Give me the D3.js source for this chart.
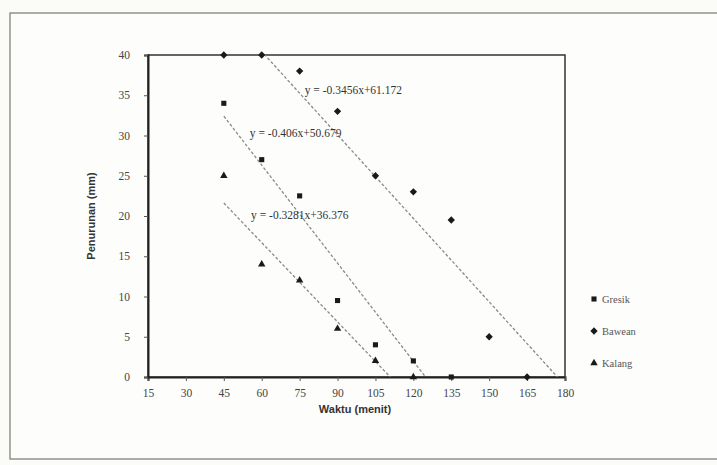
<!DOCTYPE html>
<html>
<head>
<meta charset="utf-8">
<script src="https://cdn.jsdelivr.net/npm/d3@7"></script>
<style>
  body { margin: 0; background: #fbfbf8; }
  svg { display: block; }
</style>
</head>
<body>
<script>
//Width and height
var w = 717;
var h = 465;

//plot area edges in pixels
var plotLeft = 148, plotRight = 565, plotTop = 55, plotBottom = 377;

//series data (waktu in menit, penurunan in mm)
var gresikX = [45, 60, 75, 90, 105, 120, 135];
var gresikY = [34, 27, 22.5, 9.5, 4, 2, 0];
var baweanX = [45, 60, 75, 90, 105, 120, 135, 150, 165];
var baweanY = [40, 40, 38, 33, 25, 23, 19.5, 5, 0];
var kalangX = [45, 60, 75, 90, 105, 120];
var kalangY = [25, 14, 12, 6, 2, 0];

//trendline equations as printed on the chart
var trendSlope = [-0.406, -0.3456, -0.3281];
var trendIntercept = [50.679, 61.172, 36.376];
var trendLabels = ["y = -0.406x+50.679", "y = -0.3456x+61.172", "y = -0.3281x+36.376"];
var labelX = [55.3, 77, 55.8];
var labelY = [30.3, 35.6, 20.1];

var seriesNames = ["Gresik", "Bawean", "Kalang"];
var xTicks = [15, 30, 45, 60, 75, 90, 105, 120, 135, 150, 165, 180];
var yTicks = [0, 5, 10, 15, 20, 25, 30, 35, 40];

var xScale = d3.scaleLinear().domain([15, 180]).range([plotLeft, plotRight]);
var yScale = d3.scaleLinear().domain([0, 40]).range([plotBottom, plotTop]);

var svg = d3.select("body")
            .append("svg")
            .attr("width", w)
            .attr("height", h);

//outer chart frame
svg.append("rect")
   .attr("x", 10).attr("y", 13)
   .attr("width", 720).attr("height", 446)
   .attr("fill", "#fdfdfb")
   .attr("stroke", "#777")
   .attr("stroke-width", 1.2);

//clip for trendlines
svg.append("clipPath").attr("id", "plotClip")
   .append("rect")
   .attr("x", plotLeft).attr("y", plotTop)
   .attr("width", plotRight - plotLeft).attr("height", plotBottom - plotTop);

//plot border
svg.append("rect")
   .attr("x", plotLeft).attr("y", plotTop)
   .attr("width", plotRight - plotLeft).attr("height", plotBottom - plotTop)
   .attr("fill", "none")
   .attr("stroke", "#333")
   .attr("stroke-width", 1.5);

//axes
var xAxis = d3.axisBottom(xScale).tickValues(xTicks).tickSize(4).tickPadding(8);
var yAxis = d3.axisLeft(yScale).tickValues(yTicks).tickSize(4).tickPadding(14);

var gx = svg.append("g").attr("transform", "translate(0," + plotBottom + ")").call(xAxis);
var gy = svg.append("g").attr("transform", "translate(" + plotLeft + ",0)").call(yAxis);

[gx, gy].forEach(function(g) {
    g.select(".domain").attr("stroke", "#222").attr("stroke-width", 2);
    g.selectAll(".tick line").attr("stroke", "#555");
    g.selectAll("text")
     .attr("font-family", "Liberation Serif, Times New Roman, serif")
     .attr("font-size", 11.5)
     .attr("fill", "#444");
});

//trendlines
var xsets = [gresikX, baweanX, kalangX];
var ysets = [gresikY, baweanY, kalangY];
var tg = svg.append("g").attr("clip-path", "url(#plotClip)");
for (var i = 0; i < 3; i++) {
    var x0 = d3.min(xsets[i]), x1 = 180;
    tg.append("line")
      .attr("x1", xScale(x0)).attr("y1", yScale(trendSlope[i] * x0 + trendIntercept[i]))
      .attr("x2", xScale(x1)).attr("y2", yScale(trendSlope[i] * x1 + trendIntercept[i]))
      .attr("stroke", "#8a8a8a")
      .attr("stroke-width", 1.3)
      .attr("stroke-dasharray", "3,2");
}

//markers
var shapes = [d3.symbolSquare, d3.symbolDiamond2 || d3.symbolDiamond, d3.symbolTriangle];
var sizes = [26, 34, 24];
function drawSeries(xs, ys, k) {
    var pts = xs.map(function(x, j) { return [x, ys[j]]; });
    svg.append("g").selectAll("path")
       .data(pts)
       .enter()
       .append("path")
       .attr("d", d3.symbol().type(shapes[k]).size(sizes[k]))
       .attr("transform", function(d) { return "translate(" + xScale(d[0]) + "," + yScale(d[1]) + ")"; })
       .attr("fill", "#1a1a1a");
}
drawSeries(gresikX, gresikY, 0);
drawSeries(baweanX, baweanY, 1);
drawSeries(kalangX, kalangY, 2);

//equation labels
svg.append("g").selectAll("text")
   .data(trendLabels)
   .enter()
   .append("text")
   .attr("x", function(d, i) { return xScale(labelX[i]); })
   .attr("y", function(d, i) { return yScale(labelY[i]) + 4; })
   .attr("font-family", "Liberation Serif, Times New Roman, serif")
   .attr("font-size", 11.5)
   .attr("fill", "#333")
   .text(function(d) { return d; });

//axis titles
svg.append("text")
   .attr("x", 355).attr("y", 413)
   .attr("text-anchor", "middle")
   .attr("font-family", "Liberation Sans, Arial, sans-serif")
   .attr("font-weight", "bold")
   .attr("font-size", 11)
   .attr("fill", "#333")
   .text("Waktu (menit)");

svg.append("text")
   .attr("transform", "translate(95,216) rotate(-90)")
   .attr("text-anchor", "middle")
   .attr("font-family", "Liberation Sans, Arial, sans-serif")
   .attr("font-weight", "bold")
   .attr("font-size", 11)
   .attr("fill", "#333")
   .text("Penurunan (mm)");

//legend
var legend = svg.append("g").selectAll("g")
    .data(seriesNames)
    .enter()
    .append("g")
    .attr("transform", function(d, i) { return "translate(594," + [299, 331, 363][i] + ")"; });

legend.append("path")
      .attr("d", function(d, i) { return d3.symbol().type(shapes[i]).size(sizes[i])(); })
      .attr("fill", "#1a1a1a");

legend.append("text")
      .attr("x", 8).attr("y", 4)
      .attr("font-family", "Liberation Serif, Times New Roman, serif")
      .attr("font-size", 10.5)
      .attr("fill", "#555")
      .text(function(d) { return d; });
</script>
</body>
</html>
